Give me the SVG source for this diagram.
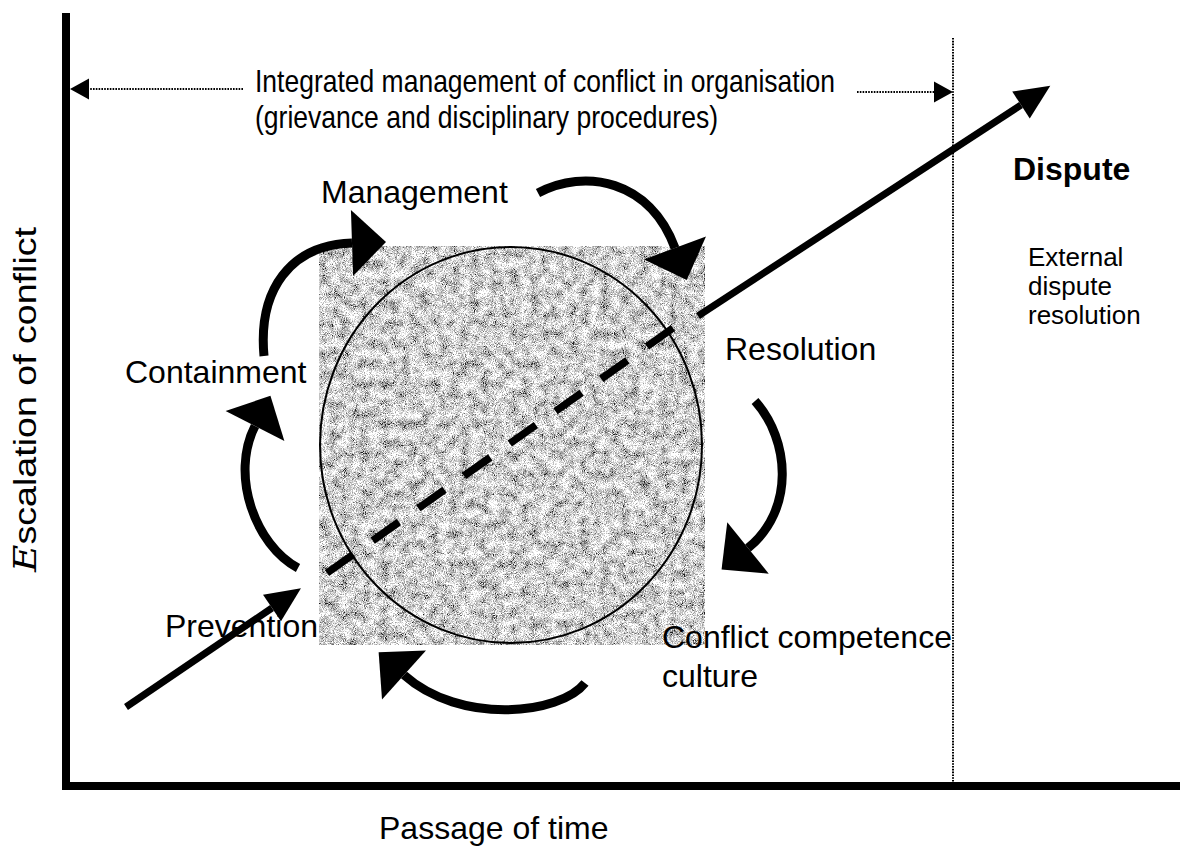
<svg xmlns="http://www.w3.org/2000/svg" width="1180" height="846" viewBox="0 0 1180 846">
  <style>
    .lbl { font-family: "Liberation Sans", Arial, sans-serif; font-size: 32px; fill: #000; }
    .small { font-family: "Liberation Sans", Arial, sans-serif; font-size: 26px; fill: #000; }
    .bold { font-weight: bold; }
    .axis { fill: none; stroke: #000; stroke-width: 8; stroke-linejoin: miter; }
    .dotted { fill: none; stroke: #000; stroke-width: 2; stroke-dasharray: 1.6 1.2; }
    .arc { fill: none; stroke: #000; stroke-width: 9; marker-end: url(#bighead); }
    .shaft { fill: none; stroke: #000; stroke-width: 7; }
    .dashed { fill: none; stroke: #000; stroke-width: 7.5; stroke-dasharray: 32 24; }
  </style>
  <defs>
    <!-- speckled grey texture for the central square -->
    <filter id="grain" x="0" y="0" width="1" height="1" color-interpolation-filters="sRGB">
      <feTurbulence type="fractalNoise" baseFrequency="1.1" numOctaves="1" seed="4" result="fine"/>
      <feColorMatrix in="fine" type="matrix" values="1 0 0 0 0  1 0 0 0 0  1 0 0 0 0  0 0 0 0 1" result="fineG"/>
      <feTurbulence type="fractalNoise" baseFrequency="0.1" numOctaves="3" seed="11" result="coarse"/>
      <feColorMatrix in="coarse" type="matrix" values="1 0 0 0 0  1 0 0 0 0  1 0 0 0 0  0 0 0 0 1" result="coarseG"/>
      <feComposite in="fineG" in2="coarseG" operator="arithmetic" k2="1.7" k3="0.9" k4="-0.65" result="mix"/>
      <feComponentTransfer in="mix">
        <feFuncR type="discrete" tableValues="0.12 0.42 0.62 0.76 0.9 1"/>
        <feFuncG type="discrete" tableValues="0.12 0.42 0.62 0.76 0.9 1"/>
        <feFuncB type="discrete" tableValues="0.12 0.42 0.62 0.76 0.9 1"/>
        <feFuncA type="linear" slope="0" intercept="1"/>
      </feComponentTransfer>
    </filter>
    <!-- wide head for the curved cycle arrows -->
    <marker id="bighead" markerUnits="userSpaceOnUse" markerWidth="40" markerHeight="70"
            refX="0" refY="33" orient="auto" overflow="visible">
      <path d="M0,0 L34,33 L0,66 Z" fill="#000"/>
    </marker>
    <!-- head for the straight escalation arrows -->
    <marker id="linehead" markerUnits="userSpaceOnUse" markerWidth="40" markerHeight="36"
            refX="0" refY="16" orient="auto" overflow="visible">
      <path d="M0,0 L35,16 L0,32 Z" fill="#000"/>
    </marker>
    <!-- small head for the dotted span arrows -->
    <marker id="dothead" markerUnits="userSpaceOnUse" markerWidth="20" markerHeight="22"
            refX="0" refY="10.5" orient="auto" overflow="visible">
      <path d="M0,0 L19,10.5 L0,21 Z" fill="#000"/>
    </marker>
  </defs>

  <rect x="0" y="0" width="1180" height="846" fill="#fff"/>

  <!-- axes -->
  <g id="axes">
    <path class="axis" d="M66,13 V786 H1180"/>
    <text class="lbl" font-size="36" transform="translate(36,572) rotate(-90)" textLength="345" lengthAdjust="spacingAndGlyphs"><tspan font-family="'DejaVu Serif', serif" font-style="italic">E</tspan>scalation of conflict</text>
    <text class="lbl" x="379" y="839">Passage of time</text>
  </g>

  <!-- boundary between internal and external handling -->
  <g id="boundary">
    <line class="dotted" x1="953" y1="38" x2="953" y2="782"/>
  </g>

  <!-- central conflict area -->
  <g id="core">
    <rect x="319" y="246" width="386" height="399" fill="#b0b0b0" filter="url(#grain)"/>
    <ellipse cx="511" cy="445" rx="191" ry="198" fill="none" stroke="#000" stroke-width="2"/>
  </g>

  <g id="integrated">
    <text class="lbl" x="255" y="92" font-size="31" textLength="580" lengthAdjust="spacingAndGlyphs">Integrated management of conflict in organisation</text>
    <text class="lbl" x="255" y="128" font-size="31" textLength="463" lengthAdjust="spacingAndGlyphs">(grievance and disciplinary procedures)</text>
  </g>

  <g id="management"><text class="lbl" x="321" y="203">Management</text></g>
  <g id="containment"><text class="lbl" x="125" y="383">Containment</text></g>
  <g id="resolution"><text class="lbl" x="725" y="360">Resolution</text></g>
  <g id="prevention"><text class="lbl" x="165" y="637">Prevention</text></g>
  <g id="culture">
    <text class="lbl" x="662" y="648">Conflict competence</text>
    <text class="lbl" x="662" y="687">culture</text>
  </g>
  <g id="dispute">
    <text class="lbl bold" x="1013" y="180">Dispute</text>
    <text class="small" x="1028" y="266">External</text>
    <text class="small" x="1028" y="295">dispute</text>
    <text class="small" x="1028" y="324">resolution</text>
  </g>

  <!-- connectors -->
  <g id="connectors">
    <!-- span of integrated management -->
    <line class="dotted" x1="243" y1="89" x2="89" y2="89" marker-end="url(#dothead)"/>
    <line class="dotted" x1="857" y1="92" x2="934" y2="92" marker-end="url(#dothead)"/>

    <!-- escalation line -->
    <line class="shaft" x1="126" y1="707" x2="272" y2="608" marker-end="url(#linehead)"/>
    <line class="dashed" x1="327" y1="573" x2="673" y2="328"/>
    <line class="shaft" x1="698" y1="316" x2="1021" y2="105" marker-end="url(#linehead)"/>

    <!-- cycle of handling stages -->
    <path class="arc" d="M298,568 C255,545 230,475 255,426"/>
    <path class="arc" d="M264,356 C258,290 290,245 352,243"/>
    <path class="arc" d="M538,193 C585,168 650,180 675,248"/>
    <path class="arc" d="M755,401 C790,440 795,510 748,548"/>
    <path class="arc" d="M585,683 C560,715 460,725 404,675"/>
  </g>
</svg>
